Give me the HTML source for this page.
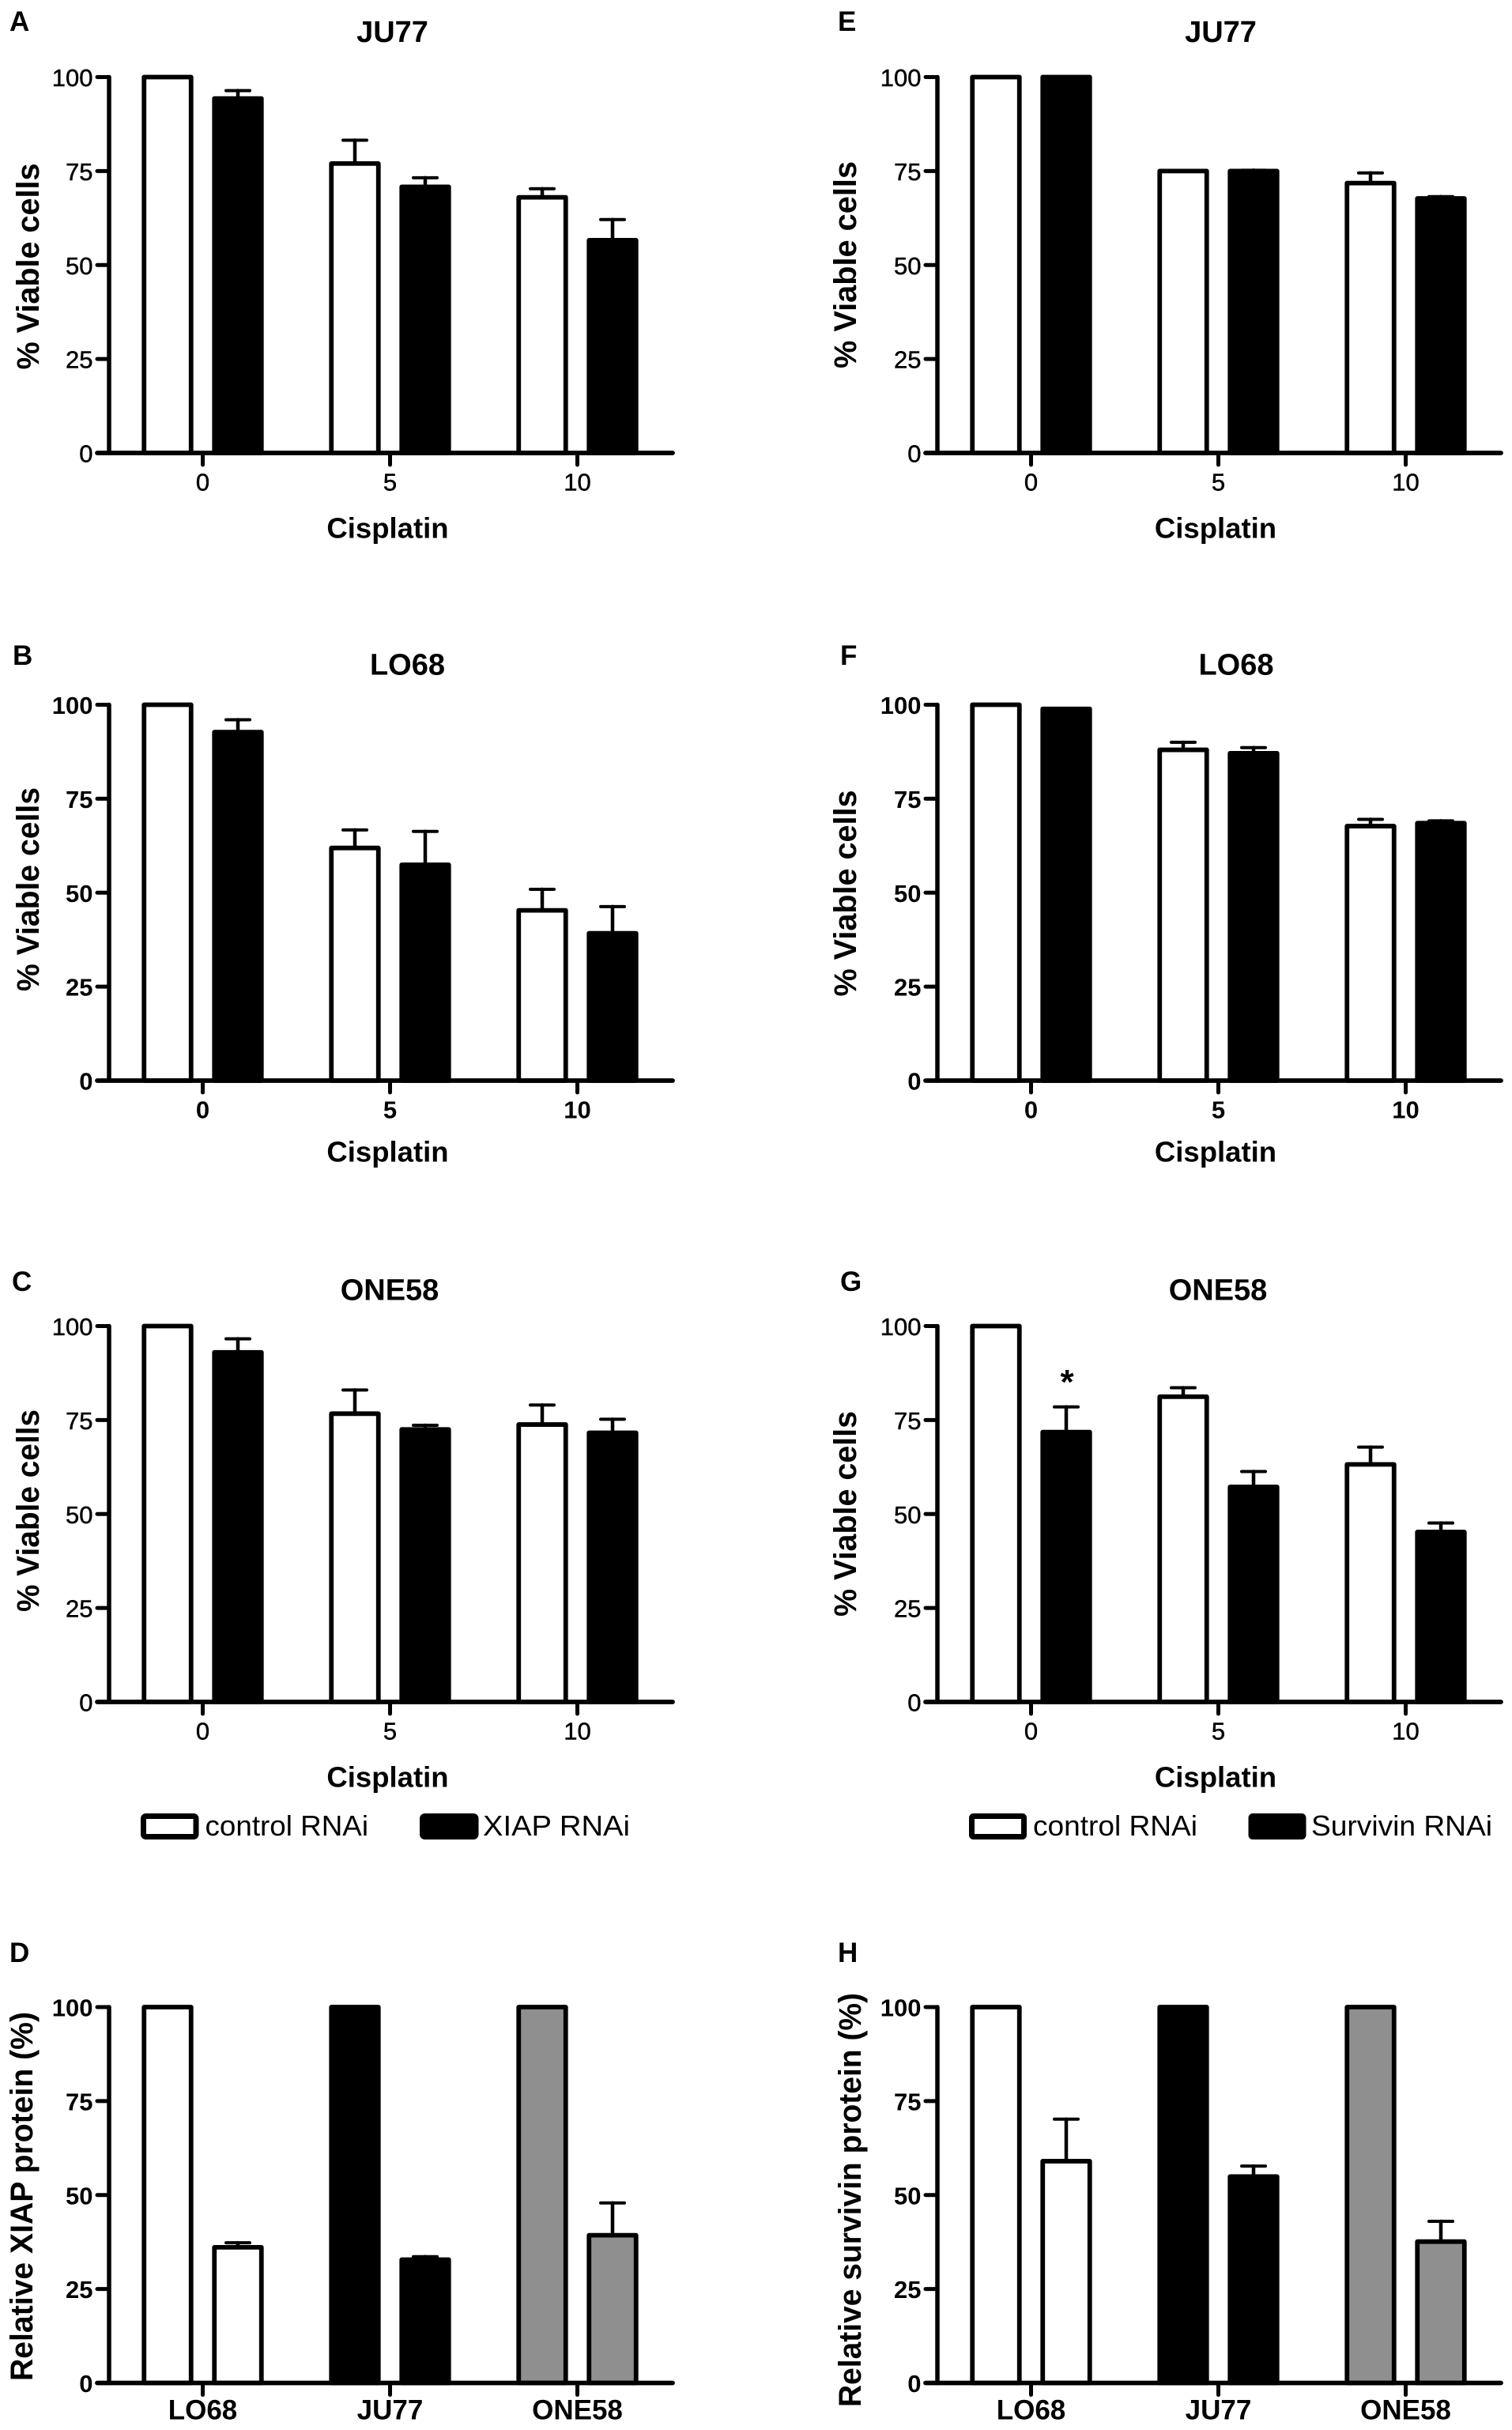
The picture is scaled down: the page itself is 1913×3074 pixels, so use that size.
<!DOCTYPE html>
<html lang="en">
<head>
<meta charset="utf-8">
<title>Viability and protein knockdown bar charts</title>
<style>
html,body{margin:0;padding:0;background:#fff;}
svg{display:block;}
text{font-family:"Liberation Sans",Arial,sans-serif;fill:#000;}
.letter{font-size:35px;font-weight:bold;}
.title{font-size:38px;font-weight:bold;text-anchor:middle;}
.xtitle{font-size:36.5px;font-weight:bold;text-anchor:middle;}
.ytitle{font-size:40px;font-weight:bold;text-anchor:middle;}
.legend{font-size:36px;}
.tick{font-size:31px;}
.tick.thin{stroke:#000;stroke-width:.5px;}
.tick.heavy{font-weight:bold;}
.cat{font-size:35px;font-weight:bold;text-anchor:middle;}
</style>
</head>
<body>
<svg id="fig" xmlns="http://www.w3.org/2000/svg" width="1913" height="3074" viewBox="0 0 1913 3074">
<rect x="0" y="0" width="1913" height="3074" fill="#fff"/>

<text class="letter" x="12" y="39">A</text>
<text class="letter" x="16" y="841">B</text>
<text class="letter" x="15" y="1633">C</text>
<text class="letter" x="12" y="2482">D</text>
<text class="letter" x="1060" y="39">E</text>
<text class="letter" x="1063" y="841">F</text>
<text class="letter" x="1063" y="1633">G</text>
<text class="letter" x="1060" y="2482">H</text>

<text class="title" x="496.5" y="53">JU77</text>
<text class="title" x="515.5" y="853.5">LO68</text>
<text class="title" x="493" y="1644.5">ONE58</text>
<text class="title" x="1544.5" y="53">JU77</text>
<text class="title" x="1564" y="853.5">LO68</text>
<text class="title" x="1541" y="1644.5">ONE58</text>

<text class="ytitle" transform="translate(49,337) rotate(-90)" textLength="261" lengthAdjust="spacingAndGlyphs">% Viable cells</text>
<text class="ytitle" transform="translate(49,1125) rotate(-90)" textLength="258" lengthAdjust="spacingAndGlyphs">% Viable cells</text>
<text class="ytitle" transform="translate(49,1911) rotate(-90)" textLength="256" lengthAdjust="spacingAndGlyphs">% Viable cells</text>
<text class="ytitle" transform="translate(41,2778.5) rotate(-90)" textLength="467" lengthAdjust="spacingAndGlyphs">Relative XIAP protein (%)</text>
<text class="ytitle" transform="translate(1083,335) rotate(-90)" textLength="262" lengthAdjust="spacingAndGlyphs">% Viable cells</text>
<text class="ytitle" transform="translate(1083,1130) rotate(-90)" textLength="261" lengthAdjust="spacingAndGlyphs">% Viable cells</text>
<text class="ytitle" transform="translate(1083,1915) rotate(-90)" textLength="260" lengthAdjust="spacingAndGlyphs">% Viable cells</text>
<text class="ytitle" transform="translate(1089,2783) rotate(-90)" textLength="524" lengthAdjust="spacingAndGlyphs">Relative survivin protein (%)</text>

<text class="xtitle" x="490.5" y="680.5">Cisplatin</text>
<text class="xtitle" x="490.5" y="1469.5">Cisplatin</text>
<text class="xtitle" x="490.5" y="2260.5">Cisplatin</text>
<text class="xtitle" x="1538" y="680.5">Cisplatin</text>
<text class="xtitle" x="1538" y="1469.5">Cisplatin</text>
<text class="xtitle" x="1538" y="2260.5">Cisplatin</text>

<g>
  <rect x="181.5" y="2297.5" width="66.5" height="26" rx="3" fill="#fff" stroke="#000" stroke-width="7"/>
  <text class="legend" x="259.5" y="2322" textLength="206.5" lengthAdjust="spacingAndGlyphs">control RNAi</text>
  <rect x="534.5" y="2297.5" width="67.5" height="26" rx="3" fill="#000" stroke="#000" stroke-width="7"/>
  <text class="legend" x="611" y="2322" textLength="186" lengthAdjust="spacingAndGlyphs">XIAP RNAi</text>
</g>
<g>
  <rect x="1229.5" y="2297.5" width="66" height="26" rx="2" fill="#fff" stroke="#000" stroke-width="7"/>
  <text class="legend" x="1307" y="2322" textLength="208" lengthAdjust="spacingAndGlyphs">control RNAi</text>
  <rect x="1583" y="2297.5" width="66" height="26" rx="2" fill="#000" stroke="#000" stroke-width="7"/>
  <text class="legend" x="1659" y="2322" textLength="229" lengthAdjust="spacingAndGlyphs">Survivin RNAi</text>
</g>

<text x="1350" y="1763" text-anchor="middle" style="font-size:44px;font-weight:bold;">*</text>
</svg>

<script>
// Shared tick labels
const yTickValues = [0, 25, 50, 75, 100];
const doseLabels = ['0', '5', '10'];
const lineLabels = ['LO68', 'JU77', 'ONE58'];

// Panel A: JU77 / XIAP RNAi
const aControl = [100, 77, 68];
const aControlErr = [0, 6.2, 2.3];
const aTreated = [94.3, 70.8, 56.6];
const aTreatedErr = [2.1, 2.4, 5.5];

// Panel B: LO68 / XIAP RNAi
const bControl = [100, 61.9, 45.3];
const bControlErr = [0, 4.8, 5.6];
const bTreated = [92.7, 57.4, 39.2];
const bTreatedErr = [3.3, 8.9, 7.1];

// Panel C: ONE58 / XIAP RNAi
const cControl = [100, 76.7, 73.8];
const cControlErr = [0, 6.3, 5.2];
const cTreated = [93, 72.5, 71.6];
const cTreatedErr = [3.6, 1.1, 3.6];

// Panel D: relative XIAP protein
const dControl = [100, 100, 100];
const dControlErr = [0, 0, 0];
const dTreated = [36.1, 32.8, 39.3];
const dTreatedErr = [1.2, 0.8, 8.6];

// Panel E: JU77 / Survivin RNAi
const eControl = [100, 75, 71.8];
const eControlErr = [0, 0, 2.7];
const eTreated = [100, 75, 67.7];
const eTreatedErr = [0, 0.2, 0.5];

// Panel F: LO68 / Survivin RNAi
const fControl = [100, 88, 67.7];
const fControlErr = [0, 2, 1.8];
const fTreated = [98.9, 87.1, 68.5];
const fTreatedErr = [0, 1.5, 0.6];

// Panel G: ONE58 / Survivin RNAi
const gControl = [100, 81.2, 63.2];
const gControlErr = [0, 2.4, 4.6];
const gTreated = [71.8, 57.2, 45.2];
const gTreatedErr = [6.7, 4.1, 2.4];

// Panel H: relative survivin protein
const hControl = [100, 100, 100];
const hControlErr = [0, 0, 0];
const hTreated = [59, 54.9, 37.6];
const hTreatedErr = [11.2, 2.8, 5.4];

const SVG_NS = 'http://www.w3.org/2000/svg';
const fig = document.getElementById('fig');
const PLOT_SPAN = 475.5;
const GROUP_STEP = 237;
const BAR_OFFSET = 44.5;
const BAR_WIDTH = 59.5;
const STROKE = 5.8;
const GRAY = '#8f8f8f';

function make(tag, parent) {
  const el = document.createElementNS(SVG_NS, tag);
  parent.appendChild(el);
  return el;
}

function line(parent, x1, y1, x2, y2, width) {
  const el = make('line', parent);
  el.setAttribute('x1', x1);
  el.setAttribute('y1', y1);
  el.setAttribute('x2', x2);
  el.setAttribute('y2', y2);
  el.setAttribute('stroke', '#000');
  el.setAttribute('stroke-width', width);
  el.setAttribute('stroke-linecap', 'round');
  return el;
}

function drawBar(parent, cx, value, err, fill, yScale, zero) {
  if (err > 0) {
    const stem = line(parent, cx, yScale(value), cx, yScale(value + err), 4.5);
    
    
    const cap = line(parent, cx - 15, yScale(value + err), cx + 15, yScale(value + err), 4);
    
    
  }
  const bar = make('rect', parent);
  
  
  bar.setAttribute('x', cx - BAR_WIDTH / 2);
  bar.setAttribute('y', yScale(value));
  bar.setAttribute('width', BAR_WIDTH);
  bar.setAttribute('height', zero - yScale(value));
  bar.setAttribute('fill', fill);
  bar.setAttribute('stroke', '#000');
  bar.setAttribute('stroke-width', STROKE);
  bar.setAttribute('stroke-linejoin', 'round');
}

function drawPanel(name, axisX, firstGroupX, zero, heavy, labels, control, controlErr, treated, treatedErr, controlFills, treatedFills) {
  const g = make('g', fig);
  
  

  const yScale = function (v) { return zero - v * PLOT_SPAN / 100; };
  const xScale = function (i) { return firstGroupX + i * GROUP_STEP; };

  labels.forEach(function (label, i) {
    drawBar(g, xScale(i) - BAR_OFFSET, control[i], controlErr[i], controlFills[i], yScale, zero);
    drawBar(g, xScale(i) + BAR_OFFSET, treated[i], treatedErr[i], treatedFills[i], yScale, zero);
  });

  const yAxis = line(g, axisX, yScale(100), axisX, zero, 5.5);
  
  
  const xAxis = line(g, axisX - 15, zero, axisX + 713, zero, STROKE);
  
  

  yTickValues.forEach(function (v) {
    const tick = line(g, axisX - 15, yScale(v), axisX, yScale(v), 5);
    
    
    const txt = make('text', g);
    
    
    txt.setAttribute('class', heavy ? 'tick heavy' : 'tick thin');
    txt.setAttribute('x', axisX - 20.5);
    txt.setAttribute('y', yScale(v) + 11.5);
    txt.setAttribute('text-anchor', 'end');
    txt.textContent = String(v);
  });

  labels.forEach(function (label, i) {
    const tick = line(g, xScale(i), zero, xScale(i), zero + 15, 5);
    
    
    const txt = make('text', g);
    
    
    if (labels === lineLabels) {
      txt.setAttribute('class', 'cat');
      txt.setAttribute('y', zero + 46);
    } else {
      txt.setAttribute('class', heavy ? 'tick heavy' : 'tick thin');
      txt.setAttribute('text-anchor', 'middle');
      txt.setAttribute('y', zero + 47.5);
    }
    txt.setAttribute('x', xScale(i));
    txt.textContent = label;
  });
}

const whites = ['#fff', '#fff', '#fff'];
const blacks = ['#000', '#000', '#000'];
const lineFills = ['#fff', '#000', GRAY];

drawPanel('panel-a-ju77-xiap', 138, 256.5, 573, false, doseLabels, aControl, aControlErr, aTreated, aTreatedErr, whites, blacks);
drawPanel('panel-b-lo68-xiap', 138, 256.5, 1367, true, doseLabels, bControl, bControlErr, bTreated, bTreatedErr, whites, blacks);
drawPanel('panel-c-one58-xiap', 138, 256.5, 2153, false, doseLabels, cControl, cControlErr, cTreated, cTreatedErr, whites, blacks);
drawPanel('panel-d-xiap-protein', 138, 256.5, 3014.5, true, lineLabels, dControl, dControlErr, dTreated, dTreatedErr, lineFills, lineFills);
drawPanel('panel-e-ju77-survivin', 1186, 1304.5, 573, false, doseLabels, eControl, eControlErr, eTreated, eTreatedErr, whites, blacks);
drawPanel('panel-f-lo68-survivin', 1186, 1304.5, 1367, true, doseLabels, fControl, fControlErr, fTreated, fTreatedErr, whites, blacks);
drawPanel('panel-g-one58-survivin', 1186, 1304.5, 2153, false, doseLabels, gControl, gControlErr, gTreated, gTreatedErr, whites, blacks);
drawPanel('panel-h-survivin-protein', 1186, 1304.5, 3014.5, true, lineLabels, hControl, hControlErr, hTreated, hTreatedErr, lineFills, lineFills);
</script>
</body>
</html>
